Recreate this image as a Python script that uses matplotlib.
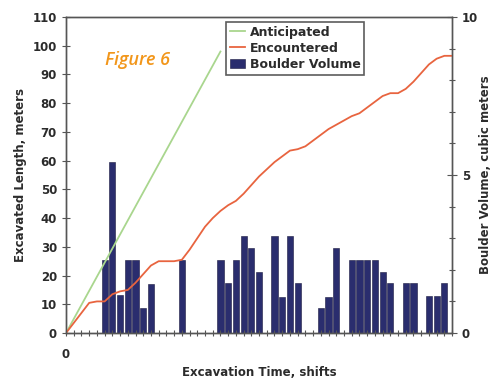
import numpy as np
import matplotlib.pyplot as plt
from matplotlib.ticker import MultipleLocator, FixedLocator, NullFormatter

# ---- data ----
shifts = list(range(0, 51))
encountered = [0, 3.5, 7, 10.5, 11, 11, 13.5, 14.5, 15, 17.5, 20.5, 23.5, 25, 25, 25, 25.5,
               29, 33, 37, 40, 42.5, 44.5, 46, 48.5, 51.5, 54.5, 57, 59.5, 61.5, 63.5, 64,
               65, 67, 69, 71, 72.5, 74, 75.5, 76.5, 78.5, 80.5, 82.5, 83.5, 83.5, 85, 87.5,
               90.5, 93.5, 95.5, 96.5, 96.5]
anticipated_x = [0, 20]
anticipated_y = [0, 98]

boulder_shift = [5, 6, 7, 8, 9, 10, 11, 15, 20, 21, 22, 23, 24, 25, 27, 28, 29, 30,
                 33, 34, 35, 37, 38, 39, 40, 41, 42, 44, 45, 47, 48, 49]
boulder_vol = [2.3, 5.4, 1.2, 2.3, 2.3, 0.8, 1.55, 2.3, 2.3, 1.58, 2.3, 3.07, 2.7, 1.93,
               3.07, 1.15, 3.07, 1.58, 0.8, 1.15, 2.7, 2.3, 2.3, 2.3, 2.3, 1.93, 1.58,
               1.58, 1.58, 1.17, 1.17, 1.58]

txt = '#2b2b2b'
fig = plt.figure(figsize=(5.04, 3.83), dpi=100)
ax = fig.add_axes([0.131, 0.1305, 0.766, 0.825])
ax2 = ax.twinx()

# bars on the right axis, lines on the left axis drawn on top
ax.set_zorder(ax2.get_zorder() + 1)
ax.patch.set_visible(False)

b = ax2.bar(boulder_shift, boulder_vol, width=0.8, color='#2a2d6e', edgecolor='#1a1a40',
            linewidth=0.4, label='Boulder Volume')
l1, = ax.plot(anticipated_x, anticipated_y, color='#a9d68e', lw=1.3, label='Anticipated')
l2, = ax.plot(shifts, encountered, color='#e8643f', lw=1.3, label='Encountered')

ax.set_xlim(0, 50)
ax.set_ylim(0, 110)
ax2.set_ylim(0, 10)

ax.yaxis.set_major_locator(MultipleLocator(10))
ax.xaxis.set_major_locator(FixedLocator([0]))
ax.xaxis.set_minor_locator(MultipleLocator(1))
ax.tick_params(axis='x', which='both', direction='inout', length=5, width=0.8,
               colors='#555555', labelcolor=txt, pad=8)
ax.tick_params(axis='y', direction='inout', length=6, width=0.8, colors='#555555',
               labelcolor=txt)
ax2.yaxis.set_major_locator(MultipleLocator(5))
ax2.yaxis.set_minor_locator(MultipleLocator(1))
ax2.tick_params(axis='y', which='major', direction='inout', length=7, width=0.8,
                colors='#555555', labelcolor=txt)
ax2.tick_params(axis='y', which='minor', direction='inout', length=4, width=0.8,
                colors='#555555')

for a in (ax, ax2):
    for s in a.spines.values():
        s.set_color('#555555')
        s.set_linewidth(1.0)
    for lab in a.get_xticklabels() + a.get_yticklabels():
        lab.set_fontweight('bold')
        lab.set_fontsize(8.5)

ax.set_xlabel('Excavation Time, shifts', fontsize=8.5, fontweight='bold', color=txt,
              labelpad=4)
ax.set_ylabel('Excavated Length, meters', fontsize=8.5, fontweight='bold', color=txt,
              labelpad=4)
ax2.set_ylabel('Boulder Volume, cubic meters', fontsize=8.5, fontweight='bold', color=txt,
               labelpad=1)

leg = ax.legend([l1, l2, b], ['Anticipated', 'Encountered', 'Boulder Volume'],
                loc='upper left', bbox_to_anchor=(0.414, 0.985), fontsize=9,
                frameon=True, fancybox=False, handlelength=1.2, handletextpad=0.4,
                borderpad=0.3, labelspacing=0.25, borderaxespad=0)
leg.get_frame().set_edgecolor('#333333')
leg.get_frame().set_linewidth(1.2)
for t in leg.get_texts():
    t.set_fontweight('bold')
    t.set_color(txt)

fig.text(0.272, 0.843, 'Figure 6', color='#f2961a', fontsize=13, style='italic',
         fontweight='semibold', ha='center', va='center', family='Open Sans')

fig.savefig('out.png', dpi=100)
